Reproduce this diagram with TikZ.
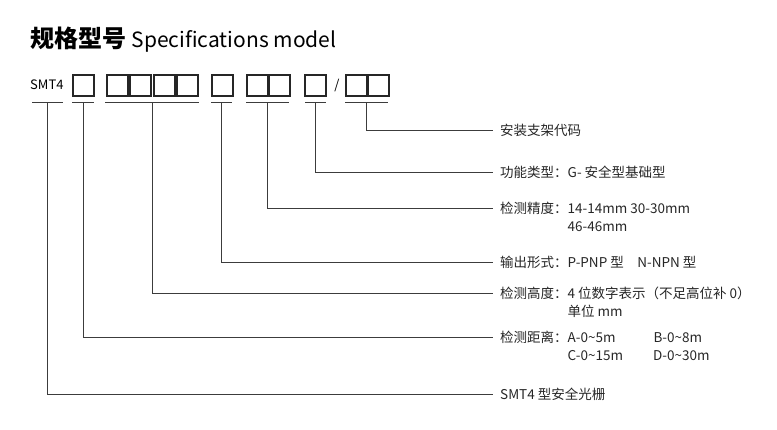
\documentclass[tikz,border=0pt]{standalone}
\usepackage{fontspec}
\setmainfont{Noto Sans CJK SC}
\usetikzlibrary{positioning}
\definecolor{leadcolor}{RGB}{60,60,60}
\tikzset{
  digit/.style={draw=black!85, line width=2pt, minimum width=21pt, minimum height=21pt, inner sep=0},
  lead/.style={draw=leadcolor, line width=0.6pt},
  spec/.style={anchor=west, inner sep=0, font=\fontsize{13.5}{16}\selectfont, text=black!85},
}
\begin{document}
\begin{tikzpicture}[x=1pt, y=-1pt]
  \useasboundingbox (0,0) rectangle (777,429);
  % title
  \node[anchor=west, inner sep=0] (title) at (30,40)
    {\fontsize{24}{27}\selectfont\bfseries 规格型号\ \mdseries\fontsize{21}{24}\selectfont Specifications model};
  % code boxes
  \node[anchor=west, inner sep=0, font=\fontsize{13}{15}\selectfont] (smt) at (30,85) {SMT4};
  \foreach \n/\x in {a/83, b1/117, b2/140.5, b3/164, b4/187.5, c/222, d1/257, d2/279, e/315, f1/356, f2/378}
    \node[digit] (\n) at (\x,85) {};
  \node[font=\fontsize{13}{15}\selectfont] (slash) at (337,85) {/};
  % underlines
  \foreach \l/\r/\m in {32/63/u0, 72/94/u1, 105/199/u2, 211/232/u3, 246/289/u4, 305/326/u5, 345/388/u6}
    \draw[lead] (\l,102) -- (\r,102) coordinate[pos=0.5] (\m);
  % labels
  \node[spec] (t6) at (500,130) {安装支架代码};
  \node[spec] (t5) at (500,172) {功能类型：G- 安全型基础型};
  \node[spec] (t4) at (500,208) {检测精度：14-14mm 30-30mm};
  \node[spec, below=5pt of t4.south west, anchor=north west] (t4b) {\phantom{检测精度：}46-46mm};
  \node[spec] (t3) at (500,262) {输出形式：P-PNP 型\quad N-NPN 型};
  \node[spec] (t2) at (500,293) {检测高度：4 位数字表示（不足高位补 0）};
  \node[spec, below=5pt of t2.south west, anchor=north west] (t2b) {\phantom{检测高度：}单位 mm};
  \node[spec] (t1) at (500,337) {检测距离：A-0\textasciitilde5m\hspace{38pt}B-0\textasciitilde8m};
  \node[spec, below=5pt of t1.south west, anchor=north west] (t1b) {\phantom{检测距离：}C-0\textasciitilde15m\hspace{30pt}D-0\textasciitilde30m};
  \node[spec] (t0) at (500,394) {SMT4 型安全光栅};
  % leaders
  \foreach \m/\t in {u6/t6, u5/t5, u4/t4, u3/t3, u2/t2, u1/t1, u0/t0}
    \draw[lead] (\m) |- ([xshift=-7pt]\t.west);
\end{tikzpicture}
\end{document}
